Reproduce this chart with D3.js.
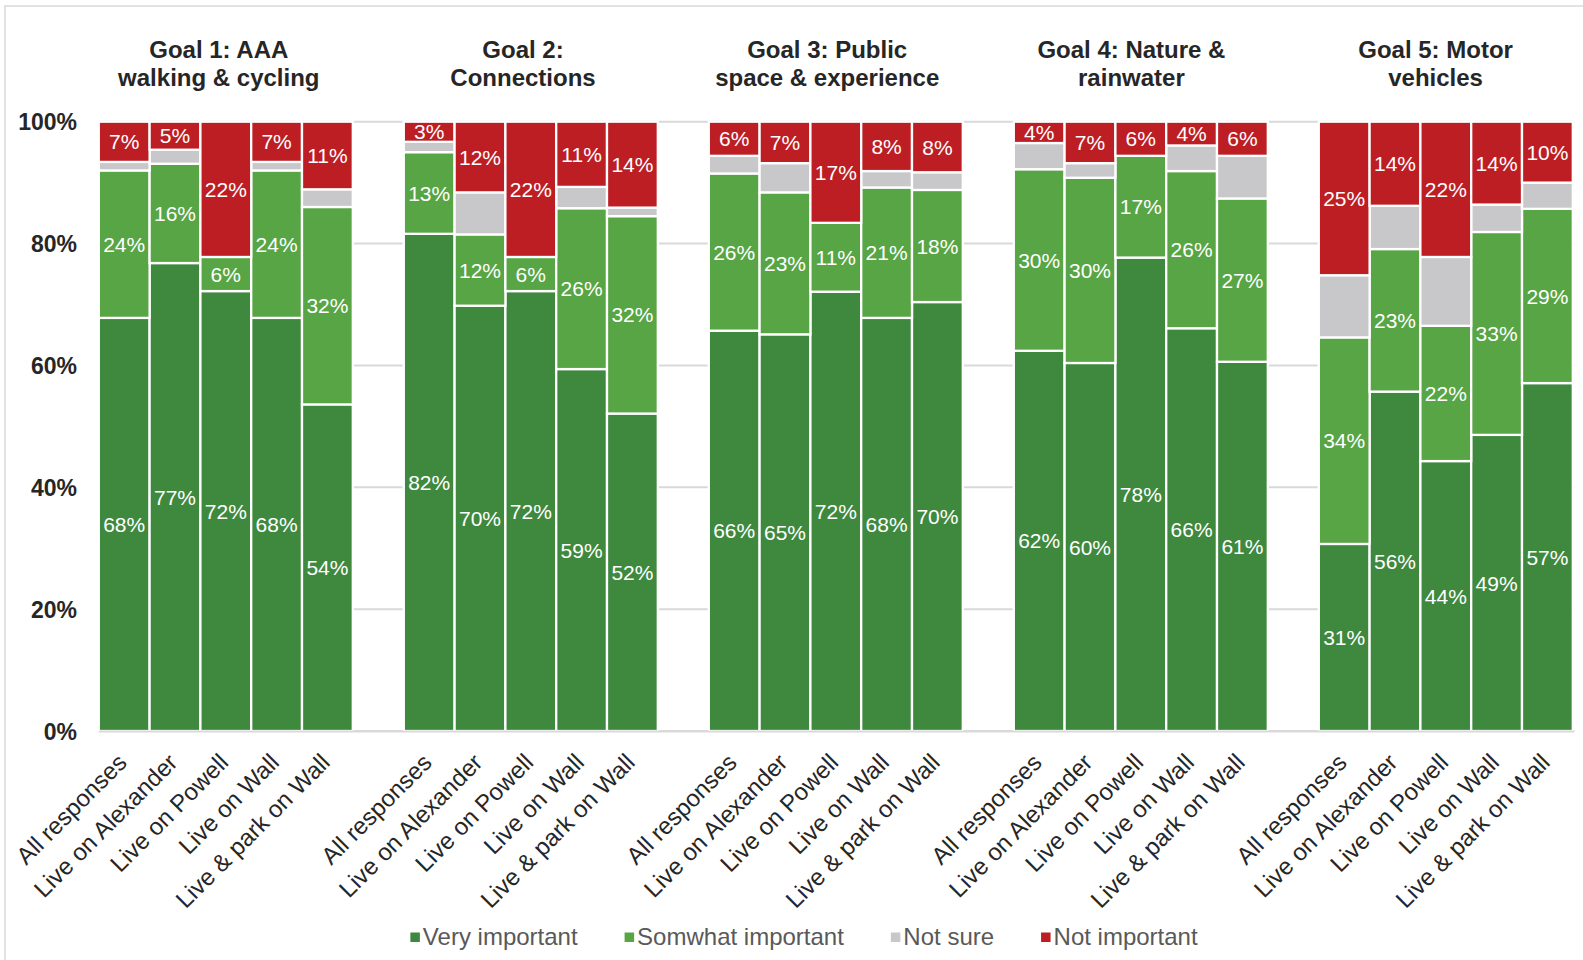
<!DOCTYPE html>
<html>
<head>
<meta charset="utf-8">
<script src="https://cdn.jsdelivr.net/npm/d3@7"></script>
<style>
  body { margin: 0; background: #fff; }
  svg { display: block; font-family: "Liberation Sans", Arial, sans-serif; }
</style>
</head>
<body>
<svg id="chart" width="1583" height="960"></svg>
<script>
// Survey: how important is each goal, split by respondent group (percent of responses)
const goalTitles = [
  ["Goal 1: AAA", "walking & cycling"],
  ["Goal 2:", "Connections"],
  ["Goal 3: Public", "space & experience"],
  ["Goal 4: Nature &", "rainwater"],
  ["Goal 5: Motor", "vehicles"]
];
const respondentGroups = ["All responses", "Live on Alexander", "Live on Powell", "Live on Wall", "Live & park on Wall"];
const responseLevels = ["Very important", "Somwhat important", "Not sure", "Not important"];
const yTicks = [0, 20, 40, 60, 80, 100];

// one row per goal, one value per respondent group
const veryImportant = [
  [67.8, 76.8, 72.2, 67.8, 53.6],
  [81.6, 69.8, 72.2, 59.4, 52.1],
  [65.7, 65.1, 72.1, 67.8, 70.4],
  [62.4, 60.4, 77.7, 66.1, 60.6],
  [30.7, 55.7, 44.3, 48.6, 57.1]
];
const somewhatImportant = [
  [24.2, 16.3, 5.6, 24.2, 32.4],
  [13.4, 11.7, 5.6, 26.4, 32.4],
  [25.8, 23.3, 11.3, 21.4, 18.4],
  [29.8, 30.4, 16.7, 25.8, 26.8],
  [33.9, 23.4, 22.2, 33.3, 28.6]
];
const notSure = [
  [1.4, 2.3, 0, 1.4, 2.9],
  [1.7, 6.9, 0, 3.5, 1.4],
  [2.9, 4.8, 0, 2.7, 2.9],
  [4.3, 2.4, 0, 4.2, 7.0],
  [10.2, 7.1, 11.3, 4.5, 4.3]
];
const notImportant = [
  [6.6, 4.6, 22.2, 6.6, 11.1],
  [3.3, 11.6, 22.2, 10.7, 14.1],
  [5.6, 6.8, 16.6, 8.1, 8.3],
  [3.5, 6.8, 5.6, 3.9, 5.6],
  [25.2, 13.8, 22.2, 13.6, 10.0]
];

const colors = {
  "Very important": "#3f893f",
  "Somwhat important": "#58a545",
  "Not sure": "#c8c8ca",
  "Not important": "#bd1e24"
};
const labelled = new Set(["Very important", "Somwhat important", "Not important"]);

// flat table for d3.stack
const seriesByLevel = [veryImportant, somewhatImportant, notSure, notImportant];
const rows = [];
goalTitles.forEach((t, g) => {
  respondentGroups.forEach((r, i) => {
    const row = { goal: g, group: r };
    responseLevels.forEach((lvl, k) => { row[lvl] = seriesByLevel[k][g][i]; });
    rows.push(row);
  });
});

const svg = d3.select("#chart");
const plotTop = 121.7, plotBottom = 731, plotLeft = 98.8, plotRight = 1572.8;

const xGoal = d3.scaleBand().domain(d3.range(goalTitles.length))
  .range([plotLeft, plotRight]).paddingInner(51 / 305).paddingOuter(0);
const xBar = d3.scaleBand().domain(respondentGroups).range([0, xGoal.bandwidth()]).padding(0);
const y = d3.scaleLinear().domain([0, 100]).range([plotBottom, plotTop]);

// frame
svg.append("path")
  .attr("d", `M5,960 V6 H1583`)
  .attr("fill", "none").attr("stroke", "#d9d9d9").attr("stroke-width", 1.5);

// gridlines
svg.append("g").selectAll("line").data(yTicks).join("line")
  .attr("x1", plotLeft).attr("x2", plotRight + 1.5)
  .attr("y1", d => y(d)).attr("y2", d => y(d))
  .attr("stroke", "#d9d9d9").attr("stroke-width", 2);

// y axis labels
const yAxis = d3.axisLeft(y).tickValues(yTicks).tickFormat(d => d + "%").tickSize(0).tickPadding(0);
const yg = svg.append("g").attr("transform", `translate(77,0)`).call(yAxis);
yg.select(".domain").remove();
yg.selectAll("text")
  .attr("font-family", "'Liberation Sans', Arial, sans-serif")
  .attr("font-size", 23).attr("font-weight", "bold").attr("fill", "#262626")
  .attr("dy", "0.36em");

// stacked bars
const stack = d3.stack().keys(responseLevels);
const stacked = stack(rows);

const barX = d => xGoal(d.data.goal) + xBar(d.data.group);

const layers = svg.append("g").selectAll("g").data(stacked).join("g")
  .attr("fill", s => colors[s.key]);

layers.selectAll("rect").data(s => s.filter(d => d[1] - d[0] > 0)).join("rect")
  .attr("x", barX)
  .attr("width", xBar.bandwidth())
  .attr("y", d => y(d[1]))
  .attr("height", d => y(d[0]) - y(d[1]))
  .attr("stroke", "#fff").attr("stroke-width", 2.3);

// value labels
const labelG = svg.append("g")
  .attr("font-size", 21).attr("fill", "#fff").attr("text-anchor", "middle");
stacked.forEach(s => {
  if (!labelled.has(s.key)) return;
  labelG.selectAll(null).data(s.filter(d => d.data[s.key] > 0)).join("text")
    .attr("x", d => barX(d) + xBar.bandwidth() / 2)
    .attr("y", d => (y(d[0]) + y(d[1])) / 2)
    .attr("dy", "0.36em")
    .text(d => Math.round(d.data[s.key]) + "%");
});

// baseline
svg.append("line")
  .attr("x1", plotLeft).attr("x2", plotRight + 1.5)
  .attr("y1", y(0) + 0.5).attr("y2", y(0) + 0.5)
  .attr("stroke", "#d9d9d9").attr("stroke-width", 2);

// goal titles
const titles = svg.append("g").attr("font-size", 24).attr("font-weight", "bold")
  .attr("fill", "#262626").attr("text-anchor", "middle");
goalTitles.forEach((lines, g) => {
  const tx = xGoal(g) + xGoal.bandwidth() / 2 - 7 - g * 0.8;
  const t = titles.append("text").attr("x", tx);
  lines.forEach((ln, j) => {
    t.append("tspan").attr("x", tx).attr("y", 58 + j * 28).text(ln);
  });
});

// rotated category labels
const cats = svg.append("g").attr("font-size", 24).attr("fill", "#262626").attr("text-anchor", "end");
goalTitles.forEach((_, g) => {
  respondentGroups.forEach(r => {
    const cx = xGoal(g) + xBar(r) + xBar.bandwidth() / 2 + 4;
    cats.append("text")
      .attr("transform", `translate(${cx},764) rotate(-45)`)
      .text(r);
  });
});

// legend
const legend = svg.append("g").attr("font-size", 24).attr("fill", "#595959");
let lx = 0;
responseLevels.forEach(lvl => {
  const it = legend.append("g");
  it.append("rect").attr("x", 0).attr("y", -12.5).attr("width", 9.5).attr("height", 9.5).attr("fill", colors[lvl]);
  const tx = it.append("text").attr("x", 12.5).attr("y", 0).text(lvl);
  const w = 12.5 + tx.node().getComputedTextLength();
  it.attr("transform", `translate(${lx},945)`);
  lx += w + 47;
});
const legendWidth = lx - 47;
legend.attr("transform", `translate(${804 - legendWidth / 2},0)`);
</script>
</body>
</html>
